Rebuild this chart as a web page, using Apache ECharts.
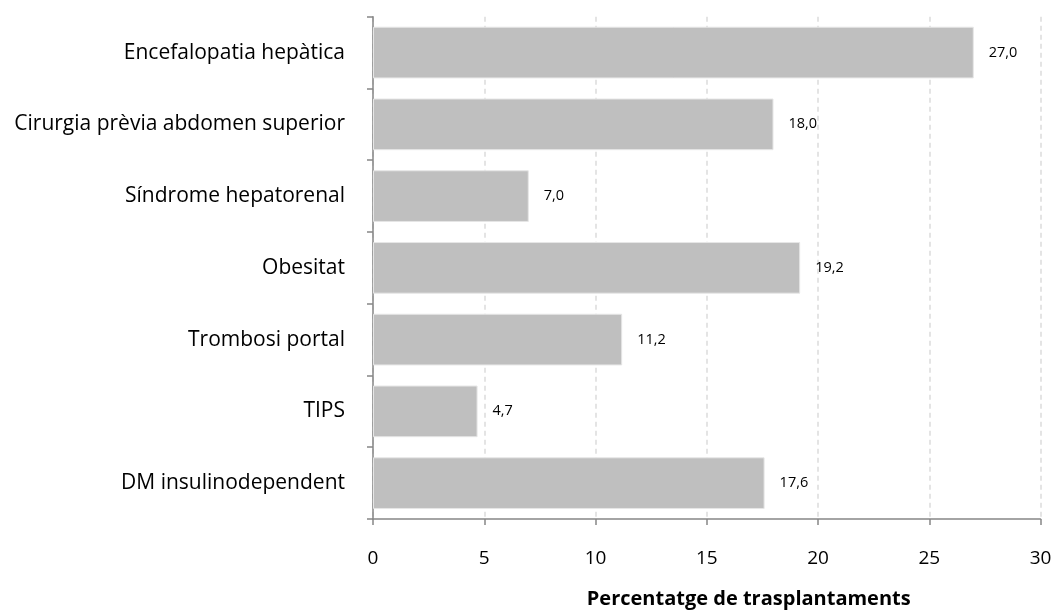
<!DOCTYPE html>
<html>
<head>
<meta charset="utf-8">
<script src="https://cdn.jsdelivr.net/npm/echarts@6/dist/echarts.min.js"></script>
<style>
  html, body { margin: 0; padding: 0; background: #fff; }
  #chart { width: 1057px; height: 614px; }
</style>
</head>
<body>
<div id="chart"></div>
<script>
// dades del gràfic
var categories = [
    'Encefalopatia hepàtica',
    'Cirurgia prèvia abdomen superior',
    'Síndrome hepatorenal',
    'Obesitat',
    'Trombosi portal',
    'TIPS',
    'DM insulinodependent'
];
var percentatges = [27.0, 18.0, 7.0, 19.2, 11.2, 4.7, 17.6];
var xTitle = 'Percentatge de trasplantaments';

var myChart = echarts.init(document.getElementById('chart'));

var option = {
    backgroundColor: '#fff',
    animation: false,
    textStyle: { fontFamily: 'Open Sans' },
    grid: {
        left: 373,
        right: 16.5,
        top: 16.7,
        bottom: 84.7,
        containLabel: false
    },
    xAxis: {
        type: 'value',
        min: 0,
        max: 30,
        interval: 5,
        name: xTitle,
        nameLocation: 'middle',
        nameGap: 70,
        nameTextStyle: {
            fontSize: 20,
            fontWeight: 'bold',
            color: '#000',
            padding: [0, 0, 0, 84]
        },
        axisLine: { show: true, lineStyle: { color: '#868686', width: 1.5 } },
        axisTick: { show: true, length: 6, lineStyle: { color: '#868686', width: 1.5 } },
        axisLabel: { fontSize: 19, color: '#000', margin: 30 },
        splitLine: { show: true, lineStyle: { color: '#dcdcdc', type: [5, 4], width: 1.5 } }
    },
    yAxis: {
        type: 'category',
        inverse: true,
        data: categories,
        axisLine: { show: true, lineStyle: { color: '#868686', width: 1.5 } },
        axisTick: { show: true, length: 6, lineStyle: { color: '#868686', width: 1.5 } },
        axisLabel: { fontSize: 21, color: '#000', margin: 28 },
        splitLine: { show: false }
    },
    series: [
        {
            type: 'bar',
            data: percentatges,
            barCategoryGap: '28%',
            itemStyle: { color: '#bfbfbf', borderColor: '#e6e6e6', borderWidth: 1 },
            label: {
                show: true,
                position: 'right',
                distance: 15,
                fontSize: 14.5,
                color: '#000',
                formatter: function (p) {
                    return p.value.toFixed(1).replace('.', ',');
                }
            }
        }
    ]
};
myChart.setOption(option);
</script>
</body>
</html>
